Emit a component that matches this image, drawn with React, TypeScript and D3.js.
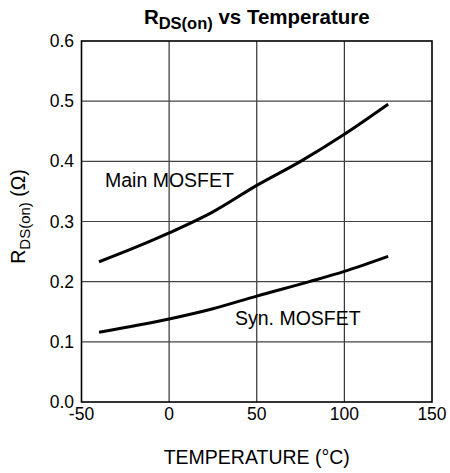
import React from "react";
import * as d3 from "d3";

const xTicks = [-50, 0, 50, 100, 150];
const yTicks = [0, 0.1, 0.2, 0.3, 0.4, 0.5, 0.6];
const mainTemp = [-40, -20, 0, 25, 50, 75, 100, 125];
const mainR = [0.233, 0.256, 0.281, 0.316, 0.36, 0.4, 0.445, 0.495];
const synTemp = [-40, 0, 25, 50, 80, 100, 125];
const synR = [0.116, 0.138, 0.155, 0.176, 0.2, 0.217, 0.242];

const W = 450, H = 473;
const left = 81.5, right = 432, top = 41, bottom = 402;
const FONT = "Liberation Sans, Arial, Helvetica, sans-serif";

export default function App() {
  const x = d3.scaleLinear().domain([-50, 150]).range([left, right]);
  const y = d3.scaleLinear().domain([0, 0.6]).range([bottom, top]);
  const line = d3
    .line<[number, number]>()
    .x((d) => x(d[0]))
    .y((d) => y(d[1]))
    .curve(d3.curveMonotoneX);
  const mainPts = mainTemp.map((t, i) => [t, mainR[i]] as [number, number]);
  const synPts = synTemp.map((t, i) => [t, synR[i]] as [number, number]);
  const cx = (left + right) / 2;
  return (
    <svg width={W} height={H} style={{ position: "absolute", left: 0, top: 0 }} fontFamily={FONT}>
      <rect width={W} height={H} fill="#fff" />
      {xTicks.slice(1, -1).map((t) => (
        <line key={"gx" + t} x1={x(t)} x2={x(t)} y1={top} y2={bottom} stroke="#333" strokeWidth={1.2} />
      ))}
      {yTicks.slice(1, -1).map((t) => (
        <line key={"gy" + t} x1={left} x2={right} y1={y(t)} y2={y(t)} stroke="#444" strokeWidth={1.2} />
      ))}
      <rect x={left} y={top} width={right - left} height={bottom - top} fill="none" stroke="#000" strokeWidth={1.6} />
      {xTicks.map((t) => (
        <text key={"tx" + t} x={x(t)} y={420} textAnchor="middle" fontSize={17.5} fill="#000">
          {t}
        </text>
      ))}
      {yTicks.map((t) => (
        <text key={"ty" + t} x={74} y={y(t) + 6} textAnchor="end" fontSize={17.5} fill="#000">
          {t.toFixed(1)}
        </text>
      ))}
      <path d={line(mainPts) || ""} fill="none" stroke="#000" strokeWidth={3} />
      <path d={line(synPts) || ""} fill="none" stroke="#000" strokeWidth={3} />
      <text x={105} y={187} fontSize={19.5} fill="#000">Main MOSFET</text>
      <text x={235} y={325} fontSize={19.5} fill="#000">Syn. MOSFET</text>
      <text x={cx} y={24} textAnchor="middle" fontSize={20.5} fontWeight="bold" fill="#000">
        R<tspan fontSize={16.5} dy={5}>DS(on)</tspan>
        <tspan dy={-5}> vs Temperature</tspan>
      </text>
      <text x={cx} y={464} textAnchor="middle" fontSize={19.5} fill="#000">
        TEMPERATURE (°C)
      </text>
      <text transform={`translate(25,${(top + bottom) / 2 - 5}) rotate(-90)`} textAnchor="middle" fontSize={19.5} fill="#000">
        R<tspan fontSize={15} dy={5}>DS(on)</tspan>
        <tspan dy={-5}> (Ω)</tspan>
      </text>
    </svg>
  );
}
